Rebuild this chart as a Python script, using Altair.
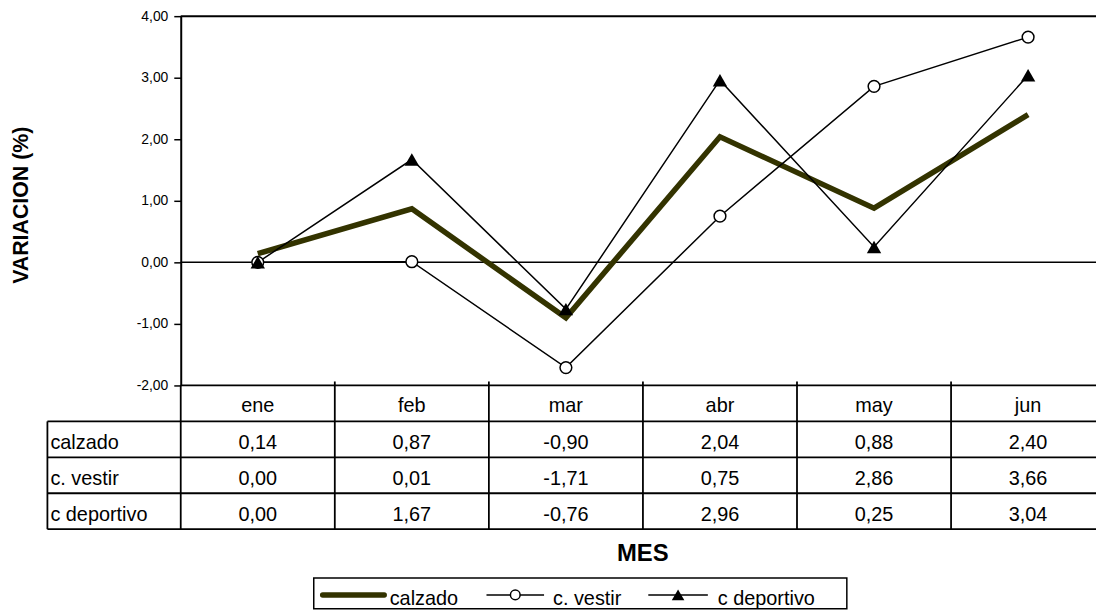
import altair as alt
import pandas as pd

# ---- data -------------------------------------------------------------
months = ["ene", "feb", "mar", "abr", "may", "jun"]
calzado = [0.14, 0.87, -0.90, 2.04, 0.88, 2.40]
c_vestir = [0.00, 0.01, -1.71, 0.75, 2.86, 3.66]
c_deportivo = [0.00, 1.67, -0.76, 2.96, 0.25, 3.04]
series_names = ["calzado", "c. vestir", "c deportivo"]
y_ticks = [-2, -1, 0, 1, 2, 3, 4]

# ---- layout constants -------------------------------------------------
FONT = "Liberation Sans"
W, H = 922, 372
PAD_L, PAD_T, PAD_B = 174, 6, 227
COL_PX = 155.2
ROW_PX = 36.2
Y_MIN, Y_MAX = -2, 4
UNIT_PX = H / (Y_MAX - Y_MIN)
X_MAX = -0.5 + W / COL_PX
ROW_U = ROW_PX / UNIT_PX
LABEL_X = -0.5 - 134.3 / COL_PX
FAR_X = 6.5


def fmt(v):
    return f"{v:.2f}".replace(".", ",")


series_vals = [calzado, c_vestir, c_deportivo]
frames = []
for name, vals in zip(series_names, series_vals):
    frames.append(pd.DataFrame({"idx": list(range(len(months))), "month": months,
                                "series": name, "value": vals}))
df_cal, df_ves, df_dep = frames

xs = alt.Scale(domain=[-0.5, X_MAX], nice=False, zero=False)
ys = alt.Scale(domain=[Y_MIN, Y_MAX], nice=False, zero=False)

y_axis = alt.Axis(
    values=y_ticks,
    labelExpr="replace((datum.value < 0 ? '-' : '') + format(abs(datum.value), '.2f'), '.', ',')",
    tickSize=7, tickColor="black", tickWidth=1.5,
    domainColor="black", domainWidth=2,
    labelFont=FONT, labelFontSize=14, labelColor="black", labelPadding=6,
    grid=False,
    title="VARIACION (%)", titleFont=FONT, titleFontSize=21.5, titleFontWeight="bold",
    titleColor="black", titleX=-160, titleY=190, titleAngle=270,
    titleAlign="center", titleBaseline="middle",
)
x_axis = alt.Axis(
    labels=False, ticks=False, domain=False, grid=False,
    title="MES", titleFont=FONT, titleFontSize=24, titleFontWeight="bold",
    titleColor="black", titleX=465, titleY=176, titleAlign="center",
    titleBaseline="alphabetic",
)


def X(f):
    return alt.X(f, scale=xs, axis=x_axis)


def Y(f):
    return alt.Y(f, scale=ys, axis=y_axis)


# ---- plot frame lines ---------------------------------------------------
frame_df = pd.DataFrame({"x": [-0.5], "x2": [FAR_X], "y": [Y_MAX]})
top_border = alt.Chart(frame_df).mark_rule(color="black", strokeWidth=2).encode(
    x=X("x:Q"), x2="x2:Q", y=Y("y:Q"))
zero_df = pd.DataFrame({"x": [-0.5], "x2": [FAR_X], "y": [0.0]})
zero_line = alt.Chart(zero_df).mark_rule(color="black", strokeWidth=1.5).encode(
    x=X("x:Q"), x2="x2:Q", y=Y("y:Q"))

# ---- series -----------------------------------------------------------
line_cal = alt.Chart(df_cal).mark_line(color="#333300", strokeWidth=5.5).encode(
    x=X("idx:Q"), y=Y("value:Q"))
line_ves = alt.Chart(df_ves).mark_line(color="black", strokeWidth=1.5).encode(
    x=X("idx:Q"), y=Y("value:Q"))
line_dep = alt.Chart(df_dep).mark_line(color="black", strokeWidth=1.5).encode(
    x=X("idx:Q"), y=Y("value:Q"))
pts_ves = alt.Chart(df_ves).mark_point(shape="circle", filled=True, fill="white",
                                       stroke="black", strokeWidth=1.5, size=140,
                                       opacity=1).encode(
    x=X("idx:Q"), y=Y("value:Q"))
pts_dep = alt.Chart(df_dep).mark_point(shape="triangle-up", filled=True, color="black",
                                       size=210, opacity=1).encode(
    x=X("idx:Q"), y=Y("value:Q"))

# ---- data table ---------------------------------------------------------
def row_y(k):
    return Y_MIN - k * ROW_U

segs = []
segs.append((-0.5, FAR_X, row_y(0), row_y(0)))
for k in range(1, 5):
    segs.append((LABEL_X, FAR_X, row_y(k), row_y(k)))
for i in range(len(months) + 1):
    top = row_y(0) if i == 0 else row_y(0) + 4 / UNIT_PX
    segs.append((-0.5 + i, -0.5 + i, top, row_y(4)))
segs.append((LABEL_X, LABEL_X, row_y(1), row_y(4)))
seg_df = pd.DataFrame(segs, columns=["x", "x2", "y", "y2"])
table_lines = alt.Chart(seg_df).mark_rule(color="black", strokeWidth=1.8).encode(
    x=X("x:Q"), x2="x2:Q", y=Y("y:Q"), y2="y2:Q")

head_df = pd.DataFrame({"idx": list(range(len(months))), "label": months,
                        "y": [row_y(0.5)] * len(months)})
cells = []
for r, (name, vals) in enumerate(zip(series_names, series_vals)):
    for i, v in enumerate(vals):
        cells.append({"idx": i, "label": fmt(v), "y": row_y(1.5 + r)})
cell_df = pd.DataFrame(cells)
rowlab_df = pd.DataFrame({"x": [LABEL_X] * 3, "label": series_names,
                          "y": [row_y(1.5 + r) for r in range(3)]})

txt = dict(font=FONT, fontSize=20, color="black", baseline="alphabetic")
head_text = alt.Chart(head_df).mark_text(align="center", dy=9, **txt).encode(
    x=X("idx:Q"), y=Y("y:Q"), text="label:N")
cell_text = alt.Chart(cell_df).mark_text(align="center", dy=10, **txt).encode(
    x=X("idx:Q"), y=Y("y:Q"), text="label:N")
rowlab_text = alt.Chart(rowlab_df).mark_text(align="left", dx=3, dy=10, **txt).encode(
    x=X("x:Q"), y=Y("y:Q"), text="label:N")

# ---- legend (drawn in pixel space of the view) ----------------------------
one = pd.DataFrame({"a": [0]})
LEG_Y = 583
leg_box = alt.Chart(one).mark_rect(fill="white", stroke="black", strokeWidth=1.5).encode(
    x=alt.value(134), x2=alt.value(671), y=alt.value(566), y2=alt.value(597))
leg_l1 = alt.Chart(one).mark_rule(color="#333300", strokeWidth=5.5, strokeCap="round").encode(
    x=alt.value(143), x2=alt.value(205), y=alt.value(LEG_Y))
leg_l2 = alt.Chart(one).mark_rule(color="black", strokeWidth=1.5).encode(
    x=alt.value(308), x2=alt.value(366), y=alt.value(LEG_Y))
leg_l3 = alt.Chart(one).mark_rule(color="black", strokeWidth=1.5).encode(
    x=alt.value(471), x2=alt.value(531), y=alt.value(LEG_Y))
leg_p2 = alt.Chart(one).mark_point(shape="circle", filled=True, fill="white", stroke="black",
                                   strokeWidth=1.5, size=95, opacity=1).encode(
    x=alt.value(337), y=alt.value(LEG_Y))
leg_p3 = alt.Chart(one).mark_point(shape="triangle-up", filled=True, color="black",
                                   size=160, opacity=1).encode(
    x=alt.value(501), y=alt.value(LEG_Y))
leg_texts = []
for name, lx in zip(series_names, [210.5, 375, 541]):
    leg_texts.append(alt.Chart(one).mark_text(align="left", **txt).encode(
        x=alt.value(lx), y=alt.value(593), text=alt.value(name)))

chart = alt.layer(
    top_border, zero_line, table_lines, head_text, cell_text, rowlab_text,
    line_cal, line_ves, line_dep, pts_ves, pts_dep,
    leg_box, leg_l1, leg_l2, leg_l3, leg_p2, leg_p3, *leg_texts,
).properties(
    width=W, height=H,
    autosize=alt.AutoSizeParams(type="none"),
    padding={"left": PAD_L, "top": PAD_T, "right": 0, "bottom": PAD_B},
    background="white",
).configure_view(stroke=None)

chart.save("out.html", embed_options={"renderer": "svg", "actions": False})
